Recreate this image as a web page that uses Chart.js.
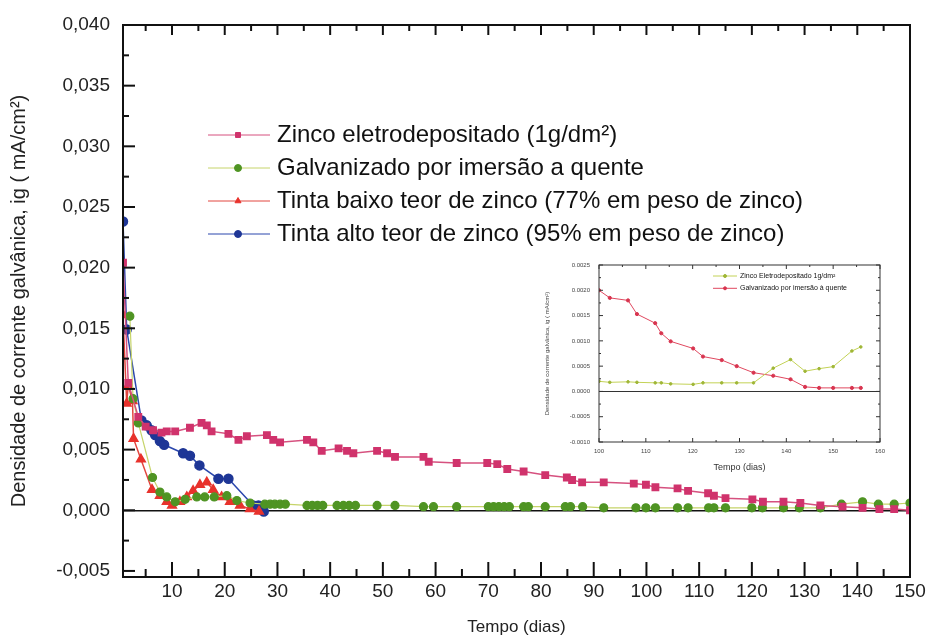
<!DOCTYPE html>
<html lang="pt">
<head>
<meta charset="UTF-8">
<title>Densidade de corrente galvânica</title>
<style>
  body { margin: 0; background: #fff; }
  #wrap { position: relative; width: 933px; height: 639px; }
  #main { position: absolute; left: 0; top: 0; }
  #inset { position: absolute; left: 540px; top: 252px; }
</style>
</head>
<body>
<script src="https://cdn.jsdelivr.net/npm/chart.js"></script>
<div id="wrap">
  <canvas id="main" width="933" height="639"></canvas>
  <canvas id="inset" width="375" height="226"></canvas>
</div>

<script>
// --- main chart data (dias, ig mA/cm2) ---
const zincoDias = [0.7,1.7,3.6,5,6.4,8,9,10.6,13.4,15.6,16.6,17.5,20.7,22.6,24.2,28,29.2,30.5,35.6,36.8,38.4,41.6,43.2,44.4,48.9,50.8,52.3,57.7,58.7,64,69.8,71.7,73.6,76.7,80.8,84.9,85.9,87.8,91.9,97.6,99.9,101.7,105.9,107.9,111.7,112.8,115,120.1,122.1,126,129.2,133,137.2,141,144.2,147,150];
const zincoVals = [.0204,.0105,.0077,.0069,.0066,.0064,.0065,.0065,.0068,.0072,.0070,.0065,.0063,.0058,.0061,.0062,.0058,.0056,.0058,.0056,.0049,.0051,.0049,.0047,.0049,.0047,.0044,.0044,.0040,.0039,.0039,.0038,.0034,.0032,.0029,.0027,.0025,.0023,.0023,.0022,.0021,.0019,.0018,.0016,.0014,.0012,.0010,.0009,.0007,.0007,.0006,.0004,.0003,.0002,.0001,.0001,0];

const galvDias = [2,2.6,3.6,6.3,7.7,9,10.6,12.5,14.7,16.2,18,20.4,22.3,24.8,27.6,28.6,29.5,30.5,31.5,35.6,36.6,37.6,38.6,41.3,42.5,43.6,44.8,48.9,52.3,57.7,59.6,64,70,71,72,73,74,76.7,77.6,80.8,84.6,85.6,87.9,91.9,98,99.9,101.7,105.9,107.9,111.8,112.8,115,120,122,126,129,133,137,141,144,147,150];
const galvVals = [.0160,.0092,.0072,.0027,.0015,.0011,.0007,.0009,.0011,.0011,.0011,.0012,.0008,.0006,.0005,.0005,.0005,.0005,.0005,.0004,.0004,.0004,.0004,.0004,.0004,.0004,.0004,.0004,.0004,.0003,.0003,.0003,.0003,.0003,.0003,.0003,.0003,.0003,.0003,.0003,.0003,.0003,.0003,.0002,.0002,.0002,.0002,.0002,.0002,.0002,.0002,.0002,.0002,.0002,.0002,.0002,.0002,.0005,.0007,.0005,.0005,.0006];

const baixoDias = [0.7,1.4,1.7,2.5,2.7,4.1,6.2,7.7,9,10,11.5,12.8,14,15.3,16.6,17.8,19.4,21,22.9,24.8,26.5];
const baixoVals = [.0161,.0088,.0103,.0090,.0059,.0042,.0017,.0012,.0007,.0004,.0007,.0011,.0016,.0021,.0023,.0017,.0011,.0007,.0004,.0001,-.0001];

const altoDias = [0.7,1.4,4.2,5.2,6.1,6.8,7.7,8.5,12.1,13.4,15.2,18.8,20.7,25.4,26.4,27.4];
const altoVals = [.0238,.0149,.0074,.0070,.0066,.0062,.0057,.0054,.0047,.0045,.0037,.0026,.0026,.0004,.0004,-.0001];

const xTicks = [10,20,30,40,50,60,70,80,90,100,110,120,130,140,150];
const yTicks = [-0.005,0,0.005,0.010,0.015,0.020,0.025,0.030,0.035,0.040];

// --- inset data ---
const insetDias  = [100,102.3,106.2,108.1,112,113.3,115.3,120.1,122.2,126.2,129.4,133,137.2,140.9,144,147,150,154,155.9];
const insetZinco = [.0002,.00018,.00019,.00018,.00017,.00017,.00015,.00014,.00017,.00017,.00017,.00017,.00046,.00063,.0004,.00045,.00049,.0008,.00088];
const insetGalv  = [.002,.00185,.0018,.00153,.00135,.00115,.00099,.00085,.00069,.00062,.0005,.00037,.00031,.00024,.00009,.00007,.00007,.00007,.00007];
const insetXTicks = [100,110,120,130,140,150,160];
const insetYTicks = [-0.001,-0.0005,0,0.0005,0.001,0.0015,0.002,0.0025];

Chart.defaults.font.family = "'Liberation Sans', Arial, sans-serif";
Chart.defaults.color = '#222';

const pts = (xs, ys) => xs.map((d, i) => ({x: d, y: ys[i]}));

// box + inward tick marks
const frameTicks = {
  id: 'frameTicks',
  afterDraw(chart, args, o) {
    const {ctx, chartArea: a, scales: {x, y}} = chart;
    ctx.save();
    ctx.strokeStyle = o.color;
    ctx.lineWidth = o.width;
    ctx.strokeRect(a.left, a.top, a.right - a.left, a.bottom - a.top);
    ctx.lineWidth = o.tickWidth;
    const seg = (x1, y1, x2, y2) => { ctx.beginPath(); ctx.moveTo(x1, y1); ctx.lineTo(x2, y2); ctx.stroke(); };
    const isMajor = (v, step) => Math.abs(v / step - Math.round(v / step)) < 1e-6;
    for (let v = o.xFrom; v <= o.xTo + 1e-9; v += o.xMinor) {
      const px = x.getPixelForValue(v);
      const m = isMajor(v, o.xMajor);
      if (o.bottom) seg(px, a.bottom, px, a.bottom - (m ? o.bottom[0] : o.bottom[1]));
      if (o.top) seg(px, a.top, px, a.top + (m ? o.top[0] : o.top[1]));
    }
    for (let k = 0; ; k++) {
      const v = o.yFrom + k * o.yMinor;
      if (v > o.yTo + 1e-12) break;
      const py = y.getPixelForValue(v);
      const m = isMajor(v, o.yMajor);
      if (o.left) seg(a.left, py, a.left + (m ? o.left[0] : o.left[1]), py);
      if (o.right) seg(a.right, py, a.right - (m ? o.right[0] : o.right[1]), py);
    }
    ctx.restore();
  }
};

// legend drawn inside the plot
const inLegend = {
  id: 'inLegend',
  afterDraw(chart, args, o) {
    const {ctx} = chart;
    ctx.save();
    ctx.font = o.size + "px 'Liberation Sans', Arial, sans-serif";
    ctx.textBaseline = 'middle';
    chart.data.datasets.forEach((ds, i) => {
      const yy = o.y + i * o.gap;
      ctx.strokeStyle = ds.borderColor;
      ctx.lineWidth = o.lineWidth;
      ctx.beginPath(); ctx.moveTo(o.x1, yy); ctx.lineTo(o.x2, yy); ctx.stroke();
      ctx.fillStyle = ds.pointBackgroundColor;
      ctx.strokeStyle = ds.pointBorderColor;
      Chart.helpers.drawPoint(ctx, {pointStyle: ds.pointStyle, radius: o.r, borderWidth: 1, rotation: 0}, o.xm, yy);
      ctx.fillStyle = '#111';
      ctx.fillText(ds.label, o.xt, yy);
    });
    ctx.restore();
  }
};

const zeroLine = (col, w) => ({
  drawTicks: false,
  color: c => (c.tick && c.tick.value === 0) ? col : 'rgba(0,0,0,0)',
  lineWidth: w
});

new Chart(document.getElementById('main'), {
  type: 'line',
  data: {
    datasets: [
      { label: 'Zinco eletrodepositado (1g/dm²)', data: pts(zincoDias, zincoVals),
        borderColor: '#d6517f', borderWidth: 1.5, pointStyle: 'rect', pointRadius: 4.5,
        pointBackgroundColor: '#d0336c', pointBorderColor: '#d0336c' },
      { label: 'Galvanizado por imersão a quente', data: pts(galvDias, galvVals),
        borderColor: '#c6d46a', borderWidth: 1.2, pointStyle: 'circle', pointRadius: 4,
        pointBackgroundColor: '#4f9423', pointBorderColor: '#4f9423' },
      { label: 'Tinta baixo teor de zinco (77% em peso de zinco)', data: pts(baixoDias, baixoVals),
        borderColor: '#e2463f', borderWidth: 1.5, pointStyle: 'triangle', pointRadius: 5,
        pointBackgroundColor: '#e8322c', pointBorderColor: '#e8322c' },
      { label: 'Tinta alto teor de zinco (95% em peso de zinco)', data: pts(altoDias, altoVals),
        borderColor: '#2b47ad', borderWidth: 1.5, pointStyle: 'circle', pointRadius: 4.5,
        pointBackgroundColor: '#1e3696', pointBorderColor: '#1e3696' }
    ]
  },
  options: {
    responsive: false,
    animation: false,
    layout: { padding: { left: 0, top: 25, right: 23, bottom: 0 } },
    elements: { line: { tension: 0 } },
    plugins: {
      legend: { display: false },
      tooltip: { enabled: false },
      frameTicks: { color: '#111', width: 2, tickWidth: 2,
        xFrom: 5, xTo: 150, xMinor: 5, xMajor: 10, bottom: [15, 8], top: [10, 6],
        yFrom: -0.005, yTo: 0.040, yMinor: 0.0025, yMajor: 0.005, left: [12, 6] },
      inLegend: { x1: 208, x2: 270, xm: 238, xt: 277, y: 135, gap: 33, r: 3.5, size: 24, lineWidth: 1 }
    },
    scales: {
      x: {
        type: 'linear', min: 0.7, max: 150,
        afterBuildTicks: s => { s.ticks = xTicks.map(v => ({value: v})); },
        afterFit: s => { s.height = 62; },
        grid: { display: false, drawTicks: false },
        border: { display: false },
        ticks: { padding: 3, autoSkip: false, maxRotation: 0, font: { size: 19 } },
        title: { display: true, text: 'Tempo (dias)', font: { size: 17 }, padding: { top: 0, bottom: 1 } }
      },
      y: {
        type: 'linear', min: -0.0055, max: 0.040,
        afterBuildTicks: s => { s.ticks = yTicks.map(v => ({value: v})); },
        afterFit: s => { s.width = 123; },
        grid: zeroLine('#111', 1.5),
        border: { display: false },
        ticks: { padding: 13, font: { size: 19 }, callback: v => v.toFixed(3).replace('.', ',') },
        title: { display: true, text: 'Densidade de corrente galvânica, ig ( mA/cm²)',
                 font: { size: 20 }, padding: { top: 7, bottom: 0 } }
      }
    }
  },
  plugins: [frameTicks, inLegend]
});

new Chart(document.getElementById('inset'), {
  type: 'line',
  data: {
    datasets: [
      { label: 'Zinco Eletrodepositado 1g/dm²', data: pts(insetDias, insetZinco),
        borderColor: '#c3d256', borderWidth: 1, pointStyle: 'circle', pointRadius: 1.3,
        pointBackgroundColor: '#9fb636', pointBorderColor: '#9fb636' },
      { label: 'Galvanizado por imersão à quente', data: pts(insetDias, insetGalv),
        borderColor: '#e0485f', borderWidth: 1, pointStyle: 'circle', pointRadius: 1.6,
        pointBackgroundColor: '#d8344f', pointBorderColor: '#d8344f' }
    ]
  },
  options: {
    responsive: false,
    animation: false,
    layout: { padding: { left: 0, top: 13, right: 35, bottom: 0 } },
    elements: { line: { tension: 0 } },
    plugins: {
      legend: { display: false },
      tooltip: { enabled: false },
      frameTicks: { color: '#333', width: 1, tickWidth: 1,
        xFrom: 100, xTo: 160, xMinor: 5, xMajor: 10, bottom: [4, 2], top: [4, 2],
        yFrom: -0.001, yTo: 0.0025, yMinor: 0.00025, yMajor: 0.0005, left: [4, 2], right: [4, 2] },
      inLegend: { x1: 173, x2: 197, xm: 185, xt: 200, y: 24, gap: 12.3, r: 1.5, size: 7, lineWidth: 1 }
    },
    scales: {
      x: {
        type: 'linear', min: 100, max: 160,
        afterBuildTicks: s => { s.ticks = insetXTicks.map(v => ({value: v})); },
        afterFit: s => { s.height = 36; },
        grid: { display: false, drawTicks: false },
        border: { display: false },
        ticks: { padding: 6, autoSkip: false, maxRotation: 0, color: '#444', font: { size: 6 } },
        title: { display: true, text: 'Tempo (dias)', color: '#333', font: { size: 9 }, padding: { top: 0, bottom: 5 } }
      },
      y: {
        type: 'linear', min: -0.001, max: 0.0025,
        afterBuildTicks: s => { s.ticks = insetYTicks.map(v => ({value: v})); },
        afterFit: s => { s.width = 59; },
        grid: zeroLine('#333', 1),
        border: { display: false },
        ticks: { padding: 9, color: '#444', font: { size: 6 }, callback: v => v.toFixed(4) },
        title: { display: true, text: 'Densidade de corrente galvânica, ig ( mA/cm²)',
                 color: '#444', font: { size: 6 }, padding: { top: 4, bottom: 0 } }
      }
    }
  },
  plugins: [frameTicks, inLegend]
});
</script>
</body>
</html>
